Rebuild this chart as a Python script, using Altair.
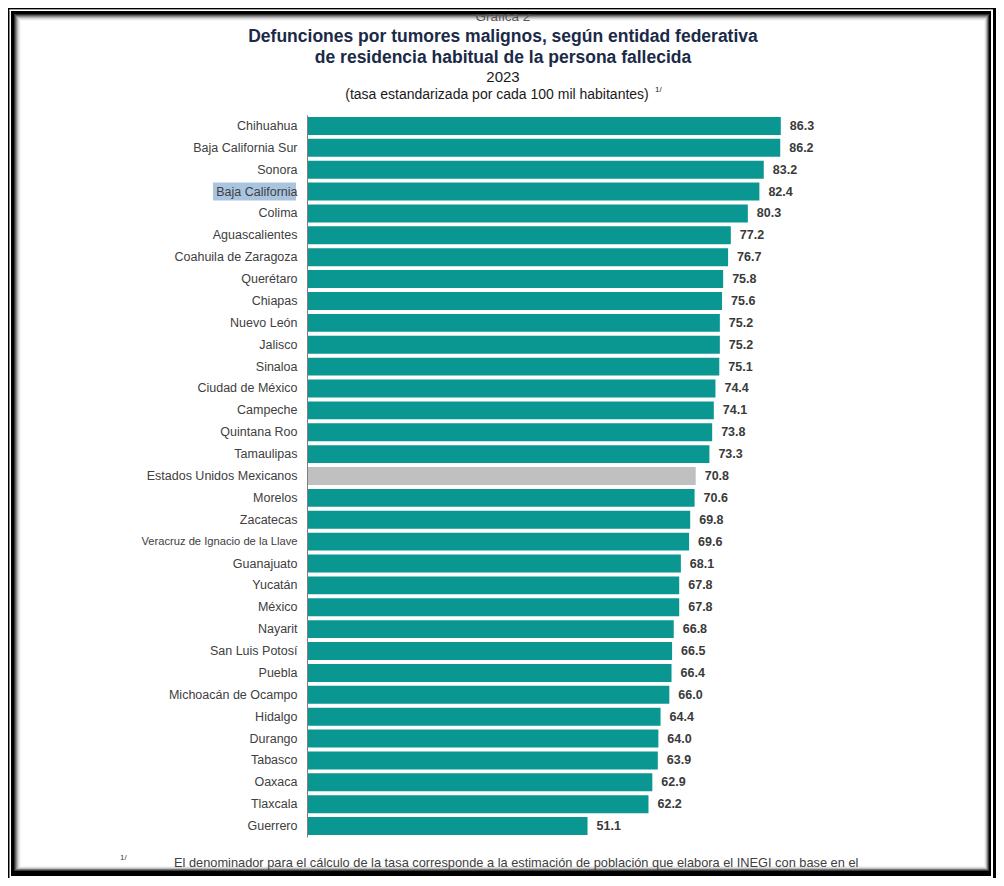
import altair as alt
import pandas as pd

# ---------------- data ----------------
estados = [
    "Chihuahua", "Baja California Sur", "Sonora", "Baja California", "Colima",
    "Aguascalientes", "Coahuila de Zaragoza", "Querétaro", "Chiapas", "Nuevo León",
    "Jalisco", "Sinaloa", "Ciudad de México", "Campeche", "Quintana Roo",
    "Tamaulipas", "Estados Unidos Mexicanos", "Morelos", "Zacatecas",
    "Veracruz de Ignacio de la Llave", "Guanajuato", "Yucatán", "México", "Nayarit",
    "San Luis Potosí", "Puebla", "Michoacán de Ocampo", "Hidalgo", "Durango",
    "Tabasco", "Oaxaca", "Tlaxcala", "Guerrero",
]
tasas = [
    86.3, 86.2, 83.2, 82.4, 80.3,
    77.2, 76.7, 75.8, 75.6, 75.2,
    75.2, 75.1, 74.4, 74.1, 73.8,
    73.3, 70.8, 70.6, 69.8,
    69.6, 68.1, 67.8, 67.8, 66.8,
    66.5, 66.4, 66.0, 64.4, 64.0,
    63.9, 62.9, 62.2, 51.1,
]
nacional = "Estados Unidos Mexicanos"
resaltado = "Baja California"
etiqueta_larga = "Veracruz de Ignacio de la Llave"

titulo_encabezado = "Gráfica 2"
titulo_lineas = [
    "Defunciones por tumores malignos, según entidad federativa",
    "de residencia habitual de la persona fallecida",
]
anio = "2023"
unidad = "(tasa estandarizada por cada 100 mil habitantes)"
llamada = "1/"
nota = ("El denominador para el cálculo de la tasa corresponde a la estimación de "
        "población que elabora el INEGI con base en el")

df = pd.DataFrame({"estado": estados, "tasa": tasas})
df["tipo"] = ["nacional" if e == nacional else "entidad" for e in estados]

# ---------------- layout ----------------
FONT = "Liberation Sans"
PAD_L, PAD_T, PAD_R, PAD_B = 299, 107, 140, 41
W, H = 549, 722
OX, OY = 8 + PAD_L, 8 + PAD_T  # page position of plot origin

one = alt.Data(values=[{"k": 1}])


def box(x1, y1, x2, y2, color):
    return alt.Chart(one).mark_rect(color=color, strokeWidth=0).encode(
        x=alt.value(x1 - OX), x2=alt.value(x2 - OX),
        y=alt.value(y1 - OY), y2=alt.value(y2 - OY),
    )


def label(text, px, py, size, color="#262626", weight="normal", align="center"):
    return alt.Chart(one).mark_text(
        font=FONT, fontSize=size, color=color, fontWeight=weight,
        align=align, baseline="middle",
    ).encode(x=alt.value(px - OX), y=alt.value(py - OY), text=alt.value(text))


# frame
frame = [
    box(8, 8, 996, 878, "#000000"),
    box(9.5, 9.5, 993, 878, "#ffffff"),
    box(11, 11, 991, 876, "#000000"),
]
shades = ["#333333", "#5f5f5f", "#8c8c8c", "#b4b4b4", "#d3d3d3", "#ebebeb", "#f7f7f7", "#ffffff"]
for i, c in enumerate(shades):
    frame.append(box(14 + i, 14 + i, 989 - i * 0.7, 871 - i * 0.7, c))

ysc = alt.Scale(domain=estados, paddingInner=0.18, paddingOuter=0.09)
yenc = alt.Y("estado:N", sort=estados, scale=ysc,
             axis=alt.Axis(title=None, ticks=False, labelPadding=10,
                           labelFont=FONT,
                           labelFontSize={"condition": {"test": f"datum.value === '{etiqueta_larga}'",
                                                        "value": 11.2},
                                          "value": 12.5},
                           labelColor="#404040",
                           domainColor="#7f7f7f", domainWidth=1, zindex=1,
                           labelLimit=300))
xsc = alt.Scale(domain=[0, 100], nice=False)

highlight = alt.Chart(df).transform_filter(
    alt.datum.estado == resaltado
).mark_rect(color="#a9c4df").encode(
    y=yenc, x=alt.value(213 - OX), x2=alt.value(296 - OX),
)

bars = alt.Chart(df).mark_bar().encode(
    y=yenc,
    x=alt.X("tasa:Q", scale=xsc, axis=None),
    color=alt.Color("tipo:N",
                    scale=alt.Scale(domain=["entidad", "nacional"],
                                    range=["#0a9691", "#c0c0c0"]),
                    legend=None),
)

values = alt.Chart(df).mark_text(
    align="left", baseline="middle", dx=9, font=FONT, fontSize=12.5,
    fontWeight="bold", color="#3a3a3a",
).encode(
    y=yenc, x=alt.X("tasa:Q", scale=xsc, axis=None),
    text=alt.Text("tasa:Q", format=".1f"),
)

texts = [
    label(titulo_encabezado, 503, 17, 13.5, color="#555555"),
    label(titulo_lineas[0], 503, 37, 17.5, color="#1b2a47", weight="bold"),
    label(titulo_lineas[1], 503, 58, 17.5, color="#1b2a47", weight="bold"),
    label(anio, 503, 77, 15, color="#1a1a1a"),
    label(unidad, 497, 95, 14, color="#1a1a1a"),
    label(llamada, 655, 90, 8, color="#1a1a1a", align="left"),
    label(llamada, 120, 858, 8, color="#404040", align="left"),
    label(nota, 174, 863, 12.8, color="#404040", align="left"),
]

cover = [
    box(8, 8, 996, 9.5, "#000000"),
    box(9.5, 9.5, 993, 11, "#ffffff"),
    box(11, 11, 991, 14, "#000000"),
]

chart = alt.layer(
    *frame, highlight, bars, values, *texts, *cover
).properties(
    width=W, height=H,
    padding={"left": PAD_L, "top": PAD_T, "right": PAD_R, "bottom": PAD_B},
    autosize=alt.AutoSizeParams(type="none"),
    background="#ffffff",
).configure_view(stroke=None)

chart.save("out.html", embed_options={"renderer": "svg", "actions": False})
